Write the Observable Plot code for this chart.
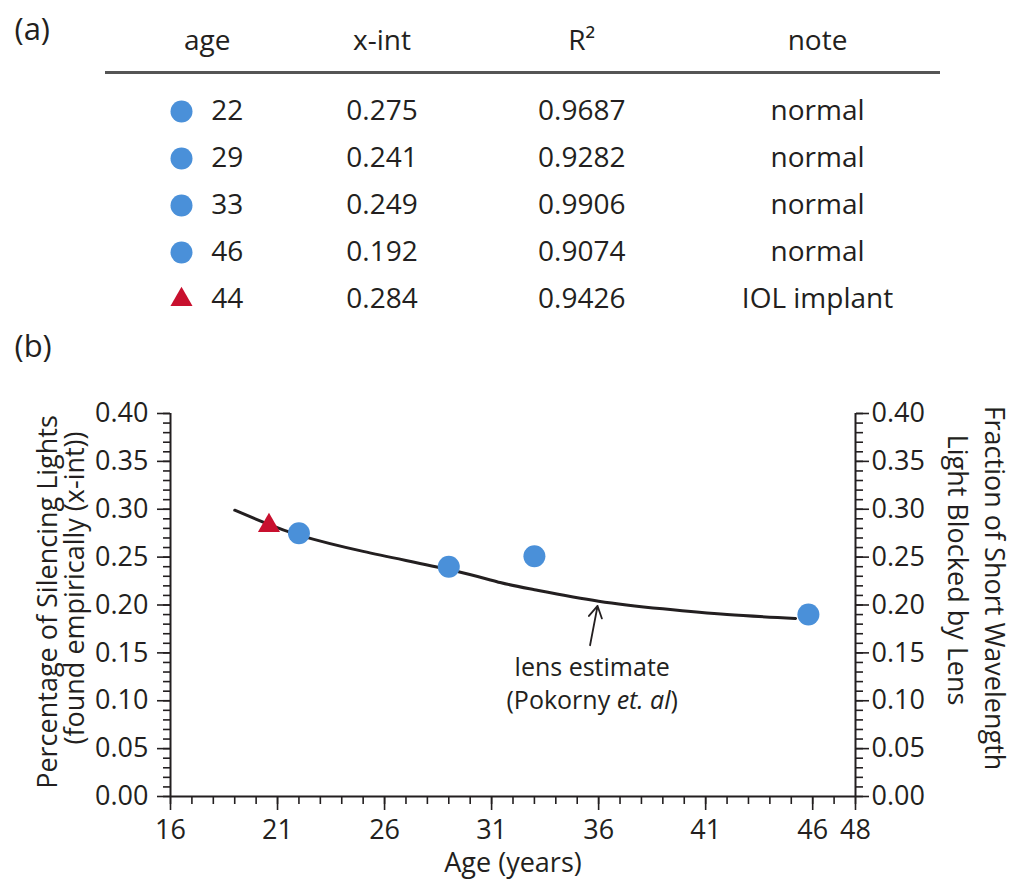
<!DOCTYPE html>
<html><head><meta charset="utf-8">
<script src="https://cdn.jsdelivr.net/npm/d3@7"></script>
<script src="https://cdn.jsdelivr.net/npm/@observablehq/plot@0.6"></script>
<style>
body{margin:0;background:#fff;}
#chart{width:1018px;}
#chart svg{display:block;}
</style></head><body><div id="chart"></div>
<script>
// ---- panel (a) table data ----
const columns = ["mark", "age", "xint", "r2", "note"];
const headerLabels = ["", "age", "x-int", "R²", "note"];
const rowIds = ["r1", "r2", "r3", "r4", "r5"];
const ages = [22, 29, 33, 46, 44];
const xints = ["0.275", "0.241", "0.249", "0.192", "0.284"];
const r2s = ["0.9687", "0.9282", "0.9906", "0.9074", "0.9426"];
const notes = ["normal", "normal", "normal", "normal", "IOL implant"];
const groups = ["normal", "normal", "normal", "normal", "IOL"];

// ---- panel (b) data ----
const pointAges = [22, 29, 33, 45.8, 20.6];
const pointValues = [0.275, 0.240, 0.251, 0.190, 0.283];
const pointGroups = ["normal", "normal", "normal", "normal", "IOL"];

const curveAges = [19, 20.5, 22, 25, 29, 31.4, 33, 36, 39, 42, 45.2];
const curveValues = [0.299, 0.285, 0.273, 0.256, 0.237, 0.2235, 0.216, 0.204, 0.196, 0.190, 0.186];

const xMajorTicks = [16, 21, 26, 31, 36, 41, 46, 48];
const xMinorTicks = [16,17,18,19,20,21,22,23,24,25,26,27,28,29,30,31,32,33,34,35,36,37,38,39,40,41,42,43,44,45,46,47,48];
const yMajorTicks = [0, 0.05, 0.10, 0.15, 0.20, 0.25, 0.30, 0.35, 0.40];
const yMinorTicks = d3.range(0, 41).map(i => i / 100);

const arrowStart = {age: 35.6, value: 0.158};
const arrowEnd = {age: 35.95, value: 0.199};
const annotLines = ["lens estimate", "(Pokorny et. al)"];
const annotValues = [0.134, 0.100];
const annotAge = 35.7;

const leftTitle = ["Percentage of Silencing Lights", "(found empirically (x-int))"];
const rightTitle = ["Fraction of Short Wavelength", "Light Blocked by Lens"];
const xTitle = "Age (years)";

// ---- styling / layout ----
const FONT = "'Open Sans', sans-serif";
const INK = "#231f20";
const BLUE = "#4a90d9";
const RED = "#c8102e";
const colorScale = {domain: ["normal", "IOL"], range: [BLUE, RED]};
const symbolScale = {domain: ["normal", "IOL"], range: ["circle", "triangle"]};

const colCenters = [180, 210, 381, 581, 817];          // pixel centres of table columns
const colStep = (colCenters[4] - colCenters[0]) / (columns.length - 1);
const colDx = col => {
  const i = columns.indexOf(col);
  return colCenters[i] - (colCenters[0] + i * colStep);
};

const container = document.getElementById("chart");

const headerData = columns.map((c, i) => ({col: c, label: headerLabels[i]})).filter(d => d.label);
const tableRows = rowIds.map((id, i) => ({id, age: ages[i], xint: xints[i], r2: r2s[i], note: notes[i], group: groups[i]}));

const tableX = {type: "point", domain: columns, range: [colCenters[0], colCenters[4]], padding: 0, axis: null};

// Header of table
const headerPlot = Plot.plot({
  width: 1018, height: 80,
  marginTop: 0, marginBottom: 0, marginLeft: 0, marginRight: 0,
  style: {fontFamily: FONT, fontSize: "28px", color: INK, background: "#fff", overflow: "visible"},
  x: tableX,
  y: {domain: [0, 1], range: [72, 41], axis: null},
  marks: [
    Plot.text(["(a)"], {frameAnchor: "left", dx: 14, dy: -10, textAnchor: "start", fontSize: 31, fill: INK}),
    ...headerData.map(h => Plot.text([h], {x: "col", y: () => 1, text: "label", dx: colDx(h.col) - (h.col === "age" ? 4 : 0), fill: INK})),
    Plot.ruleY([0], {insetLeft: 105, insetRight: 78, stroke: "#555", strokeWidth: 3})
  ]
});
container.appendChild(headerPlot);

// Rows of table
const rowsPlot = Plot.plot({
  width: 1018, height: 250,
  marginTop: 0, marginBottom: 0, marginLeft: 0, marginRight: 0,
  style: {fontFamily: FONT, fontSize: "28px", color: INK, background: "#fff", overflow: "visible"},
  x: tableX,
  y: {type: "point", domain: rowIds, range: [30, 220], padding: 0, axis: null},
  color: colorScale,
  symbol: symbolScale,
  marks: [
    Plot.dot(tableRows.filter(d => d.group === "normal"), {x: () => "mark", y: "id", r: 11, fill: "group", symbol: "group"}),
    Plot.dot(tableRows.filter(d => d.group === "IOL"), {x: () => "mark", y: "id", r: 8.2, fill: "group", symbol: "group"}),
    Plot.text(tableRows, {x: () => "age", y: "id", text: d => String(d.age), textAnchor: "start", dx: colDx("age"), fill: INK}),
    Plot.text(tableRows, {x: () => "xint", y: "id", text: "xint", dx: colDx("xint"), fill: INK}),
    Plot.text(tableRows, {x: () => "r2", y: "id", text: "r2", dx: colDx("r2"), fill: INK}),
    Plot.text(tableRows, {x: () => "note", y: "id", text: "note", dx: colDx("note"), fill: INK})
  ]
});
container.appendChild(rowsPlot);

// Panel (b)
const points = pointAges.map((a, i) => ({age: a, value: pointValues[i], group: pointGroups[i]}));
const curve = curveAges.map((a, i) => ({age: a, value: curveValues[i]}));
const annot = annotLines.map((t, i) => ({text: t, age: annotAge, value: annotValues[i]}));

const chart = Plot.plot({
  width: 1018, height: 561,
  marginTop: 83, marginBottom: 95, marginLeft: 170, marginRight: 163,
  style: {fontFamily: FONT, fontSize: "27px", color: INK, background: "#fff", overflow: "visible"},
  x: {domain: [16, 48]},
  y: {domain: [0, 0.4]},
  color: colorScale,
  symbol: symbolScale,
  marks: [
    Plot.axisX({ticks: xMinorTicks, tickSize: 8, strokeWidth: 1.6, fill: "none", label: null}),
    Plot.axisX({ticks: xMajorTicks, tickSize: 14, strokeWidth: 1.6, tickPadding: 9, tickFormat: d => String(d), label: null}),
    Plot.axisY({ticks: yMinorTicks, tickSize: 7, strokeWidth: 1.6, fill: "none", label: null}),
    Plot.axisY({ticks: yMajorTicks, tickSize: 13, strokeWidth: 1.6, tickPadding: 9, tickFormat: ".2f", label: null}),
    Plot.axisY({anchor: "right", ticks: yMinorTicks, tickSize: 7, strokeWidth: 1.6, fill: "none", label: null}),
    Plot.axisY({anchor: "right", ticks: yMajorTicks, tickSize: 13, strokeWidth: 1.6, tickPadding: 3, tickFormat: ".2f", label: null}),
    Plot.ruleY([0], {stroke: INK, strokeWidth: 2}),
    Plot.ruleX([16, 48], {stroke: INK, strokeWidth: 2}),
    Plot.line(curve, {x: "age", y: "value", curve: "natural", stroke: INK, strokeWidth: 3}),
    Plot.dot(points.filter(d => d.group === "IOL"), {x: "age", y: "value", r: 8.2, fill: "group", symbol: "group"}),
    Plot.dot(points.filter(d => d.group === "normal"), {x: "age", y: "value", r: 11, fill: "group", symbol: "group"}),
    Plot.arrow([0], {x1: () => arrowStart.age, y1: () => arrowStart.value, x2: () => arrowEnd.age, y2: () => arrowEnd.value, stroke: INK, strokeWidth: 1.8, headLength: 11}),
    Plot.text(annot, {x: "age", y: "value", text: "text", fontSize: 25, fill: INK}),
    Plot.text([xTitle], {frameAnchor: "bottom", dy: 67, textAnchor: "middle", lineAnchor: "middle", fill: INK}),
    Plot.text([leftTitle[0]], {frameAnchor: "left", dx: -122, dy: -3, rotate: -90, textAnchor: "middle", fill: INK}),
    Plot.text([leftTitle[1]], {frameAnchor: "left", dx: -95, dy: -17, rotate: -90, textAnchor: "middle", fill: INK}),
    Plot.text([rightTitle[0]], {frameAnchor: "right", dx: 138, dy: -17, rotate: 90, textAnchor: "middle", fill: INK}),
    Plot.text([rightTitle[1]], {frameAnchor: "right", dx: 101, dy: -35, rotate: 90, textAnchor: "middle", fill: INK}),
    Plot.text(["(b)"], {frameAnchor: "top-left", dx: -156, dy: -66, textAnchor: "start", lineAnchor: "middle", fontSize: 31, fill: INK})
  ]
});
container.appendChild(chart);

// italic "et. al" in the annotation
chart.querySelectorAll("text").forEach(t => {
  if (t.textContent === annotLines[1]) {
    const ns = "http://www.w3.org/2000/svg";
    t.textContent = "";
    const parts = [["(Pokorny ", "normal"], ["et. al", "italic"], [")", "normal"]];
    for (const [s, st] of parts) {
      const ts = document.createElementNS(ns, "tspan");
      ts.setAttribute("font-style", st);
      ts.textContent = s;
      t.appendChild(ts);
    }
  }
});
</script>
</body></html>
